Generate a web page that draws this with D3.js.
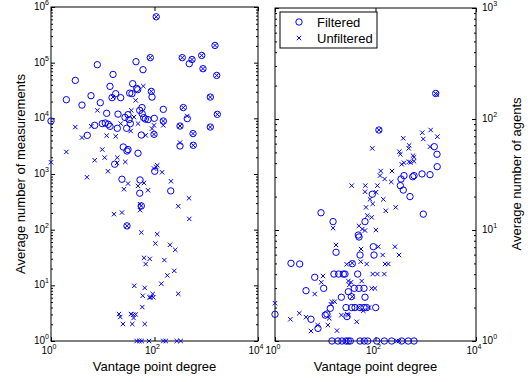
<!DOCTYPE html>
<html><head><meta charset="utf-8">
<script src="https://cdn.jsdelivr.net/npm/d3@7/dist/d3.min.js"></script>
<style>body{margin:0;background:#fff}svg{display:block}text{font-family:"Liberation Sans",Arial,Helvetica,sans-serif}</style>
</head><body><svg id="c" width="528" height="382"></svg>
<script>
// ---- data: [vantage point degree, value] ----
const leftFiltered = [[1.0,8950],[1.98,21600],[2.95,48000],[3.97,17300],[5.03,4950],[5.93,25500],[7.85,91900],[8.97,19100],[6.99,7490],[9.8,8040],[11.2,8240],[12.8,7800],[13.8,7190],[11.9,12300],[13.8,37500],[15.8,61500],[15.1,23500],[17.8,27700],[22.2,23500],[19.7,11900],[19.1,6620],[24.9,3055],[30.8,2750],[29.4,2590],[17.0,1500],[26.9,10400],[30.8,11650],[32.2,9480],[29.0,6620],[34.1,8040],[33.2,28400],[37.9,41900],[36.7,27700],[45.3,34500],[47.3,32700],[43.9,104000],[60,74800],[48,2360],[51.8,13900],[57.3,15600],[57.8,12100],[61.8,10300],[66.4,9710],[74.9,9480],[55.6,5010],[97.8,5160],[83,123000],[86.7,30500],[89.5,24100],[99,10000],[108,667000],[148,14500],[148,8950],[344,123000],[531,114000],[470,95700],[817,135000],[1476,204000],[865,77900],[1592,59000],[1198,24100],[360,15600],[1636,11800],[430,9880],[311,7280],[1198,6980],[555,5320],[311,3185],[562,3280],[23.5,805],[52.5,782],[51.8,452],[55.6,267],[29.4,117],[101,1120],[206,497]];
const leftUnfiltered = [[1.0,1625],[1.98,2490],[2.95,6980],[3.97,4510],[6.01,7190],[7.85,13900],[9.8,2750],[6.99,1765],[10.9,1970],[11.9,4900],[17.8,4760],[19.1,1970],[18.9,1580],[27.3,1645],[15.8,24100],[22.2,8040],[35.6,13900],[40.2,10550],[43.3,21000],[48,8040],[60.8,37900],[34.7,5920],[89.5,6530],[97.8,7490],[108,1338],[148,7490],[430,11000],[311,3660],[113,1435],[97.8,1253],[140,1075],[12.6,1120],[4.96,875],[30.8,674],[25.7,533],[48,611],[62.7,691],[74.9,511],[208,741],[464,367],[288,264],[52.5,287],[52.5,224],[16.5,190],[23.5,203],[470,156],[55.6,89],[113,83],[104,56.5],[199,53.4],[252,43.4],[62.7,31.2],[80.8,29.9],[67.6,24.1],[155,28.4],[241,18.2],[177,15.1],[135,10.7],[40.7,9.8],[64.7,9.0],[92.3,7.0],[84.5,6.1],[79.9,6.1],[94.8,6.1],[59.2,6.5],[288,7.05],[58.1,4.07],[20.6,3.05],[21.8,2.7],[35.2,3.05],[38.9,2.96],[43.3,3.0],[39.4,2.59],[24.6,2.02],[37.2,2.02],[64.7,2.02],[45.3,1],[50.9,1],[56.6,1],[78.3,1],[148,1],[165,1],[269,1],[321,1],[67.6,4950],[97.8,5160],[83,123000],[86.7,30500],[108,667000],[148,8950],[344,123000],[531,114000],[817,135000],[1476,204000],[865,77900],[1592,59000],[1198,24100],[360,15600],[1636,11800],[311,7280],[1198,6980],[555,5320],[562,3280],[29.4,117],[55.6,267]];
const rightFiltered = [[117,79.6],[1578,170],[1479,56.3],[1675,48.1],[1690,37.2],[369,30.9],[550,30.2],[584,30.9],[842,32],[1216,31.5],[312,25.1],[322,28.8],[357,22.9],[486,20],[893,13.9],[86.3,21],[61.8,11.9],[45.5,9.0],[47,8.65],[90.4,7.07],[93.4,5.95],[49.2,5.95],[34.5,4.97],[44.2,4.01],[24.7,4.01],[28.8,2.78],[37.8,2.98],[46.9,2.98],[59,2.98],[61.8,2.48],[25.9,2],[33.6,2],[39.1,2],[49.2,2],[59,2],[66.8,2],[101,2],[28.8,1],[49.2,1],[59.9,1],[70,1],[106,1],[150,1],[210,1],[332,1],[449,1],[584,1],[8.23,14.3],[14.3,11.9],[16.4,6.3],[2.08,5.01],[3.1,4.94],[6.17,3.75],[14.9,4.01],[18.5,4.01],[22.9,4.01],[4.14,2.84],[9.31,2.98],[20.9,2.48],[33,2.51],[1.0,1.74],[12.6,1.97],[10.8,1.75],[10.0,1.71],[27.1,1.66],[5.2,1.57],[7.17,1.3],[13.6,1],[17.9,1],[21.5,1],[25.9,1],[31.5,1]];
const rightUnfiltered = [[117,79.6],[1578,170],[1650,166],[86.3,54.4],[357,67],[853,75.3],[1254,79.6],[893,66],[1698,69.3],[1216,56.3],[298,50.8],[312,48.1],[458,54.4],[468,57.9],[557,46.7],[584,45.2],[369,40.4],[332,39.1],[464,41.2],[501,40.6],[584,41.6],[127,34],[123,30.9],[152,28.8],[213,34],[206,27.1],[33.6,25.1],[62.7,25.1],[109,25.1],[61.8,22.1],[102,21.9],[77.8,18.9],[88,17.2],[143,18.9],[64.7,16],[252,16],[160,14.9],[84,13],[68.7,13.5],[46.9,10.9],[54.6,10.2],[102,10],[61.8,9.9],[114,7.07],[244,7.07],[294,5.95],[139,5.95],[51.5,6.74],[26.7,4.91],[34.5,5.04],[50.8,5.18],[66.8,4.94],[155,4.94],[180,4.94],[88,4.01],[109,4.01],[150,4.01],[28.8,3.47],[32.5,3.38],[53.1,3.47],[84,2.98],[97.7,2.98],[34.5,2.51],[45.5,2],[74.3,2],[57.2,1.87],[42.3,1.49],[28.8,1.71],[14.3,10.4],[16.4,7.33],[9.02,3.85],[8.34,3.38],[6.17,2.65],[30.1,3.2],[13.6,2.26],[15.4,2.26],[1.0,2.19],[3.05,1.78],[4.14,1.64],[2.02,1.57],[7.08,1.39],[5.2,1.23],[12,1.6],[11.3,1.39],[17.1,1.24],[20.9,1.71],[27.5,1.74],[13,2.14],[264,1],[294,1]];

const xTickExps = [0, 2, 4];
const xTitle = "Vantage point degree";
const leftYTitle = "Average number of measurements";
const rightYTitle = "Average number of agents";
const legendLabels = ["Filtered", "Unfiltered"];

const BLUE = "#0000ff";
const svg = d3.select("#c");

function minorTicks(maxExp){
  const t=[]; for(let e=0;e<maxExp;e++) for(let k=2;k<=9;k++) t.push(k*Math.pow(10,e)); return t;
}
function supLabel(sel, e){
  sel.append("tspan").text("10");
  sel.append("tspan").attr("dy",-5).attr("font-size",7).text(e);
}

function panel(x0,x1,y0,y1,yMaxExp,filtered,unfiltered,ySide){
  const x = d3.scaleLog().domain([1,1e4]).range([x0,x1]);
  const y = d3.scaleLog().domain([1,Math.pow(10,yMaxExp)]).range([y1,y0]);
  const g = svg.append("g");
  const maj = xTickExps.map(e=>Math.pow(10,e));
  const yMaj = d3.range(0,yMaxExp+1).map(e=>Math.pow(10,e));
  g.append("g").attr("transform",`translate(0,${y1})`).call(d3.axisBottom(x).tickValues(maj).tickSizeInner(-4).tickSizeOuter(0).tickFormat(()=>""));
  g.append("g").attr("transform",`translate(0,${y0})`).call(d3.axisTop(x).tickValues(maj).tickSizeInner(-4).tickSizeOuter(0).tickFormat(()=>""));
  g.append("g").attr("transform",`translate(${x0},0)`).call(d3.axisLeft(y).tickValues(yMaj).tickSizeInner(-4).tickSizeOuter(0).tickFormat(()=>""));
  g.append("g").attr("transform",`translate(${x1},0)`).call(d3.axisRight(y).tickValues(yMaj).tickSizeInner(-4).tickSizeOuter(0).tickFormat(()=>""));
  g.append("g").attr("transform",`translate(${x0},0)`).call(d3.axisLeft(y).tickValues(minorTicks(yMaxExp)).tickSizeInner(-2).tickSizeOuter(0).tickFormat(()=>""));
  g.append("g").attr("transform",`translate(${x1},0)`).call(d3.axisRight(y).tickValues(minorTicks(yMaxExp)).tickSizeInner(-2).tickSizeOuter(0).tickFormat(()=>""));
  g.selectAll(".domain").remove();
  g.selectAll(".tick line").attr("stroke","#000");
  g.append("rect").attr("x",x0).attr("y",y0).attr("width",x1-x0).attr("height",y1-y0).attr("fill","none").attr("stroke","#000").attr("stroke-width",1);
  // x tick labels
  g.selectAll(".xl").data(xTickExps).join("text").attr("class","xl")
    .attr("x",e=>x(Math.pow(10,e))-2).attr("y",y1+13).attr("text-anchor","middle").attr("font-size",10)
    .each(function(e){supLabel(d3.select(this),e);});
  // y tick labels
  g.selectAll(".yl").data(d3.range(0,yMaxExp+1)).join("text").attr("class","yl")
    .attr("x",ySide==="left"? x0-2 : x1+6).attr("y",e=>y(Math.pow(10,e))+3)
    .attr("text-anchor",ySide==="left"?"end":"start").attr("font-size",10)
    .each(function(e){supLabel(d3.select(this),e);});
  g.append("text").attr("x",(x0+x1)/2).attr("y",371).attr("text-anchor","middle").attr("font-size",13).text(xTitle);
  g.selectAll(".f").data(filtered).join("circle").attr("class","f")
    .attr("cx",d=>x(d[0])).attr("cy",d=>y(d[1])).attr("r",3.2)
    .attr("fill","none").attr("stroke",BLUE).attr("stroke-width",1);
  const s=2.2;
  g.selectAll(".u").data(unfiltered).join("path").attr("class","u")
    .attr("d",d=>{const px=x(d[0]),py=y(d[1]);return `M${px-s},${py-s}L${px+s},${py+s}M${px-s},${py+s}L${px+s},${py-s}`;})
    .attr("stroke",BLUE).attr("stroke-width",1).attr("fill","none");
}

panel(51,258,7,341,6,leftFiltered,leftUnfiltered,"left");
panel(275,476,8,341,3,rightFiltered,rightUnfiltered,"right");

svg.append("text").attr("transform","translate(25,174) rotate(-90)").attr("text-anchor","middle").attr("font-size",13).text(leftYTitle);
svg.append("text").attr("transform","translate(521,174) rotate(-90)").attr("text-anchor","middle").attr("font-size",13).text(rightYTitle);

const lg = svg.append("g");
lg.append("rect").attr("x",280).attr("y",12).attr("width",97).attr("height",36).attr("fill","#fff").attr("stroke","#000");
lg.append("circle").attr("cx",299).attr("cy",22).attr("r",3.2).attr("fill","none").attr("stroke",BLUE);
lg.append("path").attr("d","M296.8,35.8L301.2,40.2M296.8,40.2L301.2,35.8").attr("stroke",BLUE).attr("fill","none");
lg.selectAll(".lt").data(legendLabels).join("text").attr("class","lt")
  .attr("x",317).attr("y",(d,i)=>27+i*16).attr("font-size",13).text(d=>d);
</script></body></html>
